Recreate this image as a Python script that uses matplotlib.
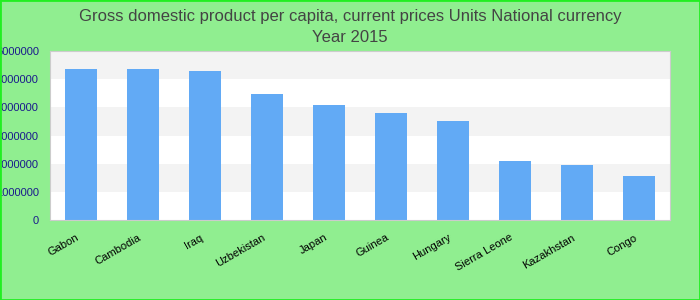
import matplotlib
matplotlib.use('Agg')
from matplotlib import pyplot as plt
from matplotlib.transforms import ScaledTranslation

plt.rcParams['font.family'] = ['Liberation Sans', 'DejaVu Sans']

countries = ['Gabon', 'Cambodia', 'Iraq', 'Uzbekistan', 'Japan',
             'Guinea', 'Hungary', 'Sierra Leone', 'Kazakhstan', 'Congo']
values = [5360000, 5360000, 5290000, 4470000, 4080000,
          3800000, 3510000, 2090000, 1950000, 1560000]
y_ticks = [0, 1000000, 2000000, 3000000, 4000000, 5000000, 6000000]

fig = plt.figure(figsize=(7, 3), dpi=100, facecolor='#90ee90')
fig.patches.append(plt.Rectangle((0, 0), 1, 1, transform=fig.transFigure,
                                 fill=False, edgecolor='#22ee22', linewidth=2))
ax = fig.add_axes([50 / 700, 80 / 300, 620 / 700, 169 / 300])
ax.set_facecolor('white')

# alternating horizontal bands
for i in range(len(y_ticks) - 1):
  if i % 2 == 1:
    ax.axhspan(y_ticks[i], y_ticks[i + 1], color='#f3f3f3', zorder=0, linewidth=0)

x = range(len(countries))
ax.bar(x, values, width=0.52, color='#62aaf5', zorder=2)
ax.set_xlim(-0.5, len(countries) - 0.5)
ax.set_ylim(0, 6000000)
ax.set_yticks(y_ticks)
ax.set_yticklabels([str(t) for t in y_ticks], color='#1a1a8c', fontsize=8)
ax.set_xticks(list(x))
ax.set_xticklabels(countries, rotation=30, ha='right', va='top',
                   rotation_mode='anchor', fontsize=8)
ax.tick_params(length=0, pad=8)
ax.tick_params(axis='x', pad=9)
shift = ScaledTranslation(-5 / 100, 0, fig.dpi_scale_trans)
for lbl in ax.get_xticklabels():
  lbl.set_transform(lbl.get_transform() + shift)
for s in ax.spines.values():
  s.set_color('#cccccc')

fig.text(0.5, 283 / 300, 'Gross domestic product per capita, current prices Units National currency',
         ha='center', va='center', fontsize=12, color='#444444')
fig.text(0.5, 262 / 300, 'Year 2015', ha='center', va='center', fontsize=12, color='#444444')

fig.savefig('out.png', facecolor=fig.get_facecolor())
